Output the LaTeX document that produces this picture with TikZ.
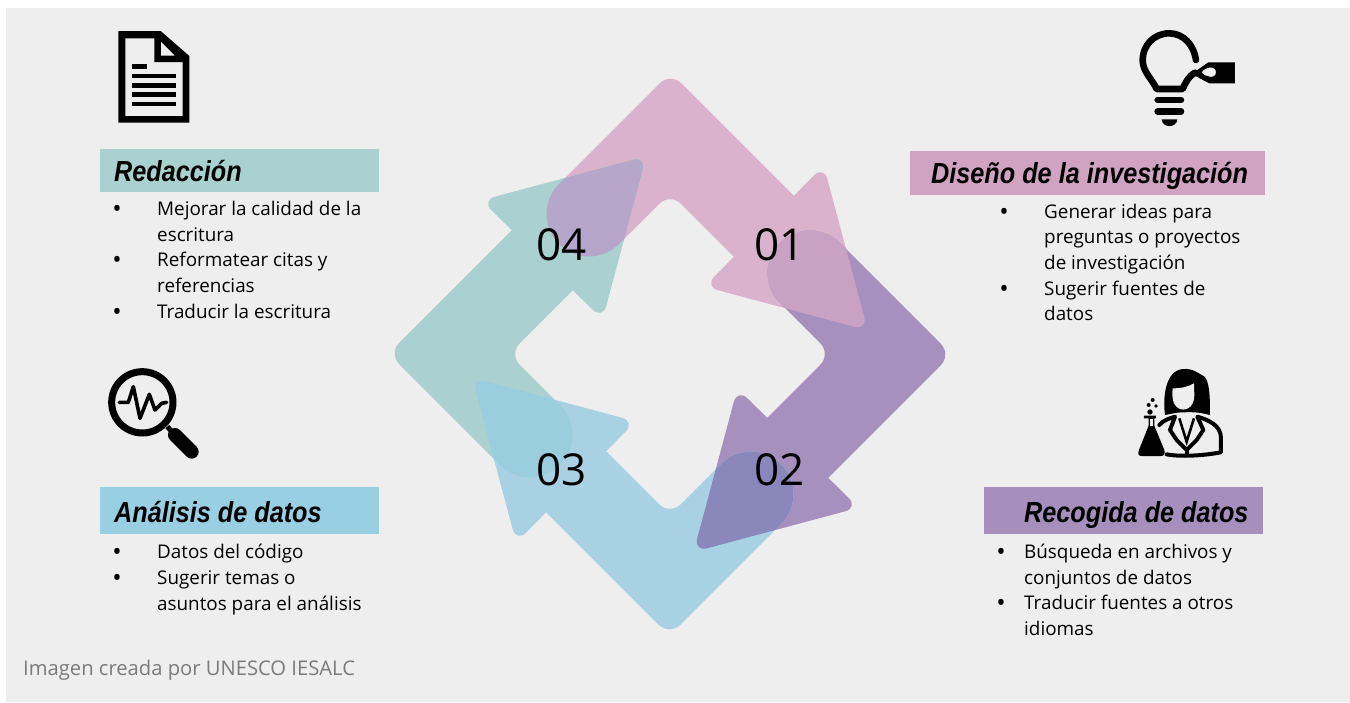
\documentclass[tikz,border=0pt]{standalone}
\usepackage{fontspec}
\setmainfont{Open Sans}
\newfontfamily\headfont[FakeStretch=0.87]{Liberation Sans}
\definecolor{bgc}{HTML}{EEEEEE}
\definecolor{cpink}{HTML}{DBB2CC}
\definecolor{cpurple}{HTML}{A690BD}
\definecolor{cblue}{HTML}{A9D1E4}
\definecolor{cteal}{HTML}{AAD1CF}
\definecolor{ovpink}{HTML}{C9A2C3}
\definecolor{ovpurple}{HTML}{8A88BB}
\definecolor{ovblue}{HTML}{9ACEDF}
\definecolor{ovteal}{HTML}{B6A6C9}
\definecolor{hteal}{HTML}{A9D1CF}
\definecolor{hpink}{HTML}{D1A3C3}
\definecolor{hpurple}{HTML}{A68FBD}
\definecolor{hblue}{HTML}{99CFE3}
\newcommand\bodyshape{(559,184) -- (659.9,83.1) .. controls (665.75,77.25) and (675.25,77.25) .. (681.1,83.1) -- (819,221) -- (758.5,281.5) -- (680.6,203.6) .. controls (674.75,197.75) and (665.25,197.75) .. (659.4,203.6) -- (619,244) .. controls (602.4,260.6) and (575.6,260.6) .. (559,244) .. controls (542.4,227.4) and (542.4,200.6) .. (559,184) -- cycle}
\newcommand\headshape{(867.9,330.4) -- (704.5,286.6) -- (823.7,165.4) -- cycle}
\tikzset{
  headround/.style={rounded corners=14pt},
  headbar/.style={anchor=base west,inner sep=0pt,font=\headfont\bfseries\itshape\fontsize{29}{29}\selectfont},
  bodytext/.style={anchor=base west,inner sep=0pt,font=\fontsize{18.85}{26}\selectfont,text=black},
  bul/.style={anchor=base,inner sep=0pt,yshift=-2pt,font=\fontsize{25}{26}\selectfont},
  numtext/.style={anchor=base west,inner sep=0pt,font=\fontsize{44}{44}\selectfont},
  iconscope/.style={x=0.33333pt,y=-0.33333pt},
}
\begin{document}
\begin{tikzpicture}[x=1pt,y=-1pt]
\useasboundingbox (0,0) rectangle (1350,702);
\fill[white] (0,0) rectangle (1350,702);
\fill[bgc] (6,8) rectangle (1350,702);
% arrows
\foreach \r/\c in {0/cpink,-90/cpurple,-180/cblue,-270/cteal}{
  \begin{scope}[rotate around={\r:(670,354)}]
    \fill[\c] \bodyshape;
    \fill[\c,headround] \headshape;
  \end{scope}
}
% overlaps
\foreach \r/\c in {0/ovpink,-90/ovpurple,-180/ovblue,-270/ovteal}{
  \begin{scope}[rotate around={\r:(670,354)}]
    \begin{scope}
      \clip[headround] \headshape;
      \begin{scope}[rotate around={-90:(670,354)}]
        \fill[\c] \bodyshape;
      \end{scope}
    \end{scope}
  \end{scope}
}
\node[numtext] (n1) at (754,260) {01};
\node[numtext] (n2) at (754,485) {02};
\node[numtext] (n3) at (536,485) {03};
\node[numtext] (n4) at (536,260) {04};
% header bars
\fill[hteal] (100,149) rectangle (379,192);
\fill[hpink] (910,151) rectangle (1265,195);
\fill[hblue] (100,487) rectangle (379,534);
\fill[hpurple] (984,487) rectangle (1263,534);
\node[headbar] (t4) at (114,181) {Redacción};
\node[headbar] (t1) at (931,183) {Diseño de la investigación};
\node[headbar] (t3) at (114,522) {Análisis de datos};
\node[headbar] (t2) at (1024,522) {Recogida de datos};
% left top
\node[bul] (b41) at (117,215) {•};
\node[bodytext] (l41) at (157,215) {Mejorar la calidad de la};
\node[bodytext] (l42) at (157,241) {escritura};
\node[bul] (b42) at (117,266) {•};
\node[bodytext] (l43) at (157,266) {Reformatear citas y};
\node[bodytext] (l44) at (157,292) {referencias};
\node[bul] (b43) at (117,318) {•};
\node[bodytext] (l45) at (157,318) {Traducir la escritura};
% right top
\node[bul] (b11) at (1004,218) {•};
\node[bodytext] (l11) at (1044,218) {Generar ideas para};
\node[bodytext] (l12) at (1044,243) {preguntas o proyectos};
\node[bodytext] (l13) at (1044,269) {de investigación};
\node[bul] (b12) at (1004,295) {•};
\node[bodytext] (l14) at (1044,295) {Sugerir fuentes de};
\node[bodytext] (l15) at (1044,320) {datos};
% left bottom
\node[bul] (b31) at (117,558) {•};
\node[bodytext] (l31) at (157,558) {Datos del código};
\node[bul] (b32) at (117,584) {•};
\node[bodytext] (l32) at (157,584) {Sugerir temas o};
\node[bodytext] (l33) at (157,610) {asuntos para el análisis};
% right bottom
\node[bul] (b21) at (1001,558) {•};
\node[bodytext] (l21) at (1024,558) {Búsqueda en archivos y};
\node[bodytext] (l22) at (1024,584) {conjuntos de datos};
\node[bul] (b22) at (1001,609) {•};
\node[bodytext] (l23) at (1024,609) {Traducir fuentes a otros};
\node[bodytext] (l24) at (1024,635) {idiomas};
\node[anchor=base west,inner sep=0pt,text=black!52,font=\fontsize{20.2}{24}\selectfont] (cap) at (23,675) {Imagen creada por UNESCO IESALC};
% document icon
\begin{scope}[iconscope,shift={(270,60)}]
  \fill[black,even odd rule] (85,33) -- (212,33) -- (298,108) -- (298,308) -- (85,308) -- cycle
    (106,55) -- (193,55) -- (193,126) -- (278,126) -- (278,288) -- (106,288) -- cycle
    (213,65) -- (213,107) -- (255,107) -- cycle;
  \fill (126,133) rectangle (172,148);
  \fill (126,161) rectangle (258,175);
  \fill (126,189) rectangle (258,203);
  \fill (126,217) rectangle (258,231);
  \fill (126,245) rectangle (258,258);
\end{scope}
% bulb icon
\begin{scope}[iconscope,shift={(3360,60)}]
  \draw[line width=6.6pt,line cap=round,line join=round]
    (228,120) .. controls (222,75) and (190,40) .. (148,40)
    .. controls (100,40) and (68,78) .. (68,120)
    .. controls (68,155) and (95,175) .. (110,207) -- (188,207)
    .. controls (198,185) and (205,170) .. (225,158);
  \fill[even odd rule] (215,162) -- (265,127) -- (345,127) -- (345,190) -- (268,190) -- cycle
    (245,157) .. controls (255,140) and (288,135) .. (288,157) .. controls (288,178) and (255,172) .. (245,157) -- cycle;
  \draw[line width=6.6pt,line cap=round] (113,240) -- (183,240);
  \draw[line width=6.6pt,line cap=round] (113,274) -- (183,274);
  \fill (125,298) -- (172,298) .. controls (170,325) and (127,325) .. (125,298) -- cycle;
\end{scope}
% magnifier icon
\begin{scope}[iconscope,shift={(270,1065)}]
  \draw[line width=7pt] (157,142) circle[radius=92];
  \draw[line width=5pt] (232,215) -- (250,235);
  \draw[line width=14pt,line cap=round] (255,240) -- (305,290);
  \draw[line width=3.6pt,line cap=round,line join=round]
    (88,142) -- (115,142) -- (130,95) -- (150,190) -- (178,118) -- (195,165) -- (215,145) -- (230,142);
\end{scope}
% scientist icon
\begin{scope}[iconscope,shift={(3360,1065)}]
  \fill (135,180) .. controls (128,130) and (135,45) .. (190,42)
    .. controls (220,40) and (235,55) .. (245,60) .. controls (270,65) and (270,130) .. (270,180)
    .. controls (250,175) and (230,170) .. (190,172) .. controls (165,172) and (150,178) .. (135,180) -- cycle;
  \fill[bgc] (158,100) .. controls (185,100) and (205,95) .. (222,85) .. controls (222,115) and (226,130) .. (218,145)
    .. controls (205,170) and (175,170) .. (162,145) .. controls (156,130) and (157,115) .. (158,100) -- cycle;
  \draw[line width=4pt,line join=round,line cap=round]
    (118,210) .. controls (130,195) and (150,190) .. (165,185) -- (150,225) -- (170,255) -- (200,285) -- (230,255) -- (250,225) -- (232,185)
    .. controls (265,195) and (303,210) .. (303,250) -- (303,292) .. controls (250,302) and (180,306) .. (140,298);
  \draw[line width=4pt] (200,285) -- (200,300);
  \draw[line width=2.6pt] (178,190) -- (200,260) -- (222,190);
  \fill (72,182) -- (108,182) -- (108,190) -- (103,190) -- (103,212) -- (133,285) .. controls (136,298) and (132,303) .. (122,303) -- (65,303)
    .. controls (55,303) and (53,296) .. (57,285) -- (86,212) -- (86,190) -- (72,190) -- cycle;
  \fill[bgc] (89,192) -- (100,192) -- (100,212) -- (89,212) -- cycle;
  \fill (90,171) circle[radius=8];
  \fill (86,150) circle[radius=6];
  \fill (108,153) circle[radius=5.5];
  \fill (98,135) circle[radius=6];
\end{scope}
\end{tikzpicture}
\end{document}
